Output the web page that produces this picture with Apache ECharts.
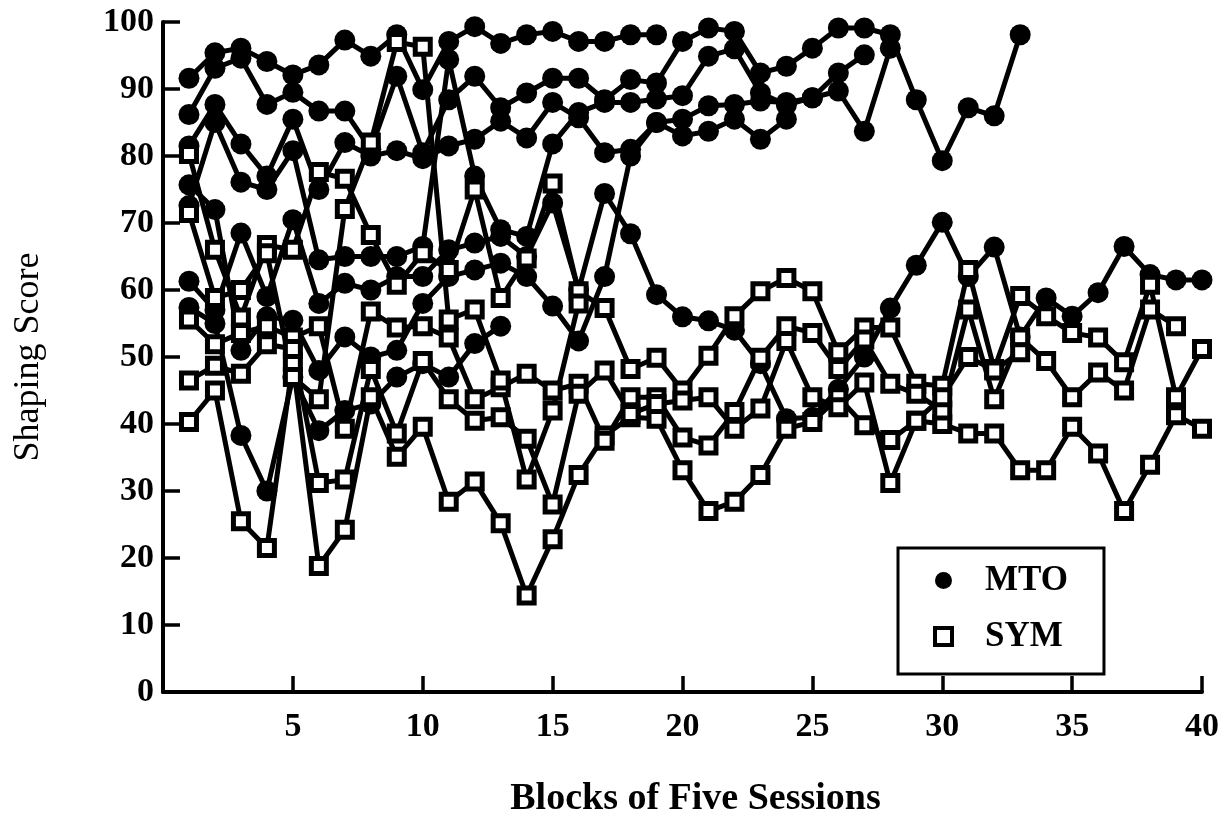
<!DOCTYPE html>
<html>
<head>
<meta charset="utf-8">
<script src="https://cdn.jsdelivr.net/npm/echarts@6/dist/echarts.min.js"></script>
<style>
  html, body { margin: 0; padding: 0; background: #fff; }
  #chart { width: 1232px; height: 823px; }
</style>
</head>
<body>
<div id="chart"></div>
<script>
// Shaping scores per block of five sessions (block 1 = first value)
// MTO subjects
var mtoA = [91.6, 95.4, 96.1, 94.1, 92.1, 93.6, 97.3, 94.9, 98.1, 89.9, 97.1, 99.3, 96.8, 98.1, 98.6, 97.1, 97.1, 98.1, 98.1];
var mtoB = [86.2, 93.1, 94.6, 87.7, 89.5, 86.7, 86.7, 81.0, 91.9, 80.5, 88.4, 91.9, 87.2, 89.4, 91.6, 91.6, 88.4, 91.4, 90.9, 97.1, 99.1, 98.6, 92.4, 93.4, 96.1, 99.1, 99.1, 98.1, 88.4, 79.3, 87.2, 86.0, 98.1];
var mtoC = [81.5, 87.7, 81.8, 77.0, 85.5, 75.0, 82.0, 80.0, 80.8, 79.6, 81.5, 82.5, 85.2, 82.7, 88.0, 85.7, 80.5, 81.0, 85.0, 85.5, 87.5, 87.7, 88.2, 88.0, 88.7, 89.7, 83.7, 96.1];
var mtoD = [75.7, 72.0, 51.0, 56.0, 55.5, 48.0, 53.0, 50.0, 51.0, 58.0, 62.0, 63.0, 64.0, 62.0, 57.6, 52.4, 62.0, 80.0, 85.0, 83.0, 83.7, 85.5, 82.5, 85.5];
var mtoE = [72.6, 85.0, 76.1, 75.0, 80.8, 64.5, 65.0, 65.0, 65.0, 66.5, 94.4, 77.0, 69.0, 68.0, 81.8, 86.5, 88.0, 88.0, 88.5, 89.0, 94.9, 96.0, 89.4, 87.6, 88.7, 92.4, 95.1];
var mtoF = [57.4, 55.0, 38.3, 30.0, 47.0, 39.0, 42.0, 43.0, 47.0, 49.0, 47.0, 52.0, 54.6];
var mtoG = [61.3, 57.0, 68.5, 59.0, 70.5, 58.0, 61.0, 60.0, 62.0, 62.0, 66.0, 67.0, 68.0, 65.0, 73.0, 60.0, 74.4, 68.4, 59.3, 56.0, 55.4, 54.0, 49.0, 40.8, 41.0, 45.2, 50.0, 57.3, 63.7, 70.1, 62.0, 66.4, 53.0, 58.8, 56.1, 59.6, 66.5, 62.3, 61.5, 61.5];

// SYM subjects
var symA = [40.3, 45.0, 25.5, 21.5, 49.2, 18.8, 24.2, 44.0, 35.1, 39.6, 28.4, 31.4, 25.2, 14.4, 22.8, 32.4, 38.3, 41.0, 40.8, 33.1, 27.0, 28.4, 32.4, 39.3, 40.3, 44.0, 39.8, 37.6, 40.5, 40.0, 38.6, 38.6, 33.1, 33.1, 39.6, 35.6, 27.0, 33.9, 41.3, 39.3];
var symB = [80.3, 66.0, 55.9, 66.7, 66.0, 77.6, 76.6, 68.2, 60.8, 65.5, 63.0, 75.0, 58.8, 64.7, 75.9, 59.8, 57.3, 48.2, 49.9, 45.0, 50.2, 56.1, 59.8, 61.8, 59.8, 50.7, 54.4, 54.4, 46.0, 45.7, 63.0, 48.2, 59.1, 56.1, 53.6, 52.9, 49.2, 60.8, 44.0, 51.2];
var symC = [55.6, 51.9, 53.6, 54.6, 52.9, 54.6, 39.3, 56.8, 54.4, 54.6, 52.9, 43.7, 45.5, 47.5, 45.0, 46.0, 37.5, 44.0, 44.0, 38.0, 36.8, 41.8, 49.9, 54.6, 53.6, 48.2, 52.6, 46.0, 44.5, 42.0, 57.1, 43.7, 52.9, 49.4, 44.0, 47.7, 45.0, 57.1, 54.6];
var symD = [46.5, 48.7, 47.5, 51.9, 51.2, 31.2, 31.7, 48.2, 38.6, 49.4, 43.7, 40.5, 41.0, 37.8, 28.0, 44.5, 48.0, 41.5, 43.0, 43.5, 44.0, 39.3, 42.3, 52.4, 44.0, 42.5, 46.2, 31.2, 40.5, 44.0, 50.0, 48.0, 50.7];
var symE = [71.5, 58.8, 60.0, 65.5, 47.0, 43.7, 72.1, 82.0, 97.0, 96.3, 55.6, 57.1, 46.5, 31.7, 42.0, 58.0];

var mtoSubjects = [mtoA, mtoB, mtoC, mtoD, mtoE, mtoF, mtoG];
var symSubjects = [symA, symB, symC, symD, symE];

// Axis tick values
var xTicks = [5, 10, 15, 20, 25, 30, 35, 40];
var yTicks = [0, 10, 20, 30, 40, 50, 60, 70, 80, 90, 100];

var FONT = 'Liberation Serif';
var INK = '#000';

function toPoints(values) {
  return values.map(function (v, i) { return [i + 1, v]; });
}

var series = [];
mtoSubjects.forEach(function (vals) {
  series.push({
    name: 'MTO',
    type: 'line',
    data: toPoints(vals),
    symbol: 'circle',
    symbolSize: 21,
    clip: false,
    lineStyle: { color: INK, width: 5 },
    itemStyle: { color: INK, borderColor: INK, borderWidth: 0 },
    emphasis: { disabled: true },
    z: 2
  });
});
symSubjects.forEach(function (vals) {
  series.push({
    name: 'SYM',
    type: 'line',
    data: toPoints(vals),
    symbol: 'rect',
    symbolSize: 15,
    clip: false,
    lineStyle: { color: INK, width: 5 },
    itemStyle: { color: '#fff', borderColor: INK, borderWidth: 5 },
    emphasis: { disabled: true },
    z: 3
  });
});

var chart = echarts.init(document.getElementById('chart'), null, { renderer: 'canvas' });
chart.setOption({
  animation: false,
  backgroundColor: '#fff',
  grid: { left: 163, right: 30, top: 22, bottom: 126, containLabel: false },
  xAxis: {
    type: 'value',
    min: 0,
    max: 40,
    interval: 5,
    name: 'Blocks of Five Sessions',
    nameLocation: 'middle',
    nameGap: 88,
    nameTextStyle: { fontFamily: FONT, fontSize: 38, fontWeight: 'bold', color: INK, padding: [0, 0, 0, 26] },
    axisLine: { show: true, lineStyle: { color: INK, width: 4 } },
    axisTick: { show: true, inside: true, length: 16, lineStyle: { color: INK, width: 3.5 } },
    axisLabel: {
      margin: 18,
      fontFamily: FONT, fontSize: 34, fontWeight: 'bold', color: INK,
      formatter: function (v) { return xTicks.indexOf(v) >= 0 ? String(v) : ''; }
    },
    splitLine: { show: false }
  },
  yAxis: {
    type: 'value',
    min: 0,
    max: 100,
    interval: 10,
    name: 'Shaping Score',
    nameLocation: 'middle',
    nameGap: 116,
    nameRotate: 90,
    nameTextStyle: { fontFamily: FONT, fontSize: 36, color: INK },
    axisLine: { show: true, lineStyle: { color: INK, width: 4 } },
    axisTick: { show: true, inside: true, length: 17, lineStyle: { color: INK, width: 3.5 } },
    axisLabel: {
      margin: 9,
      fontFamily: FONT, fontSize: 34, fontWeight: 'bold', color: INK,
      formatter: function (v) { return yTicks.indexOf(v) >= 0 ? String(v) : ''; }
    },
    splitLine: { show: false }
  },
  legend: {
    orient: 'vertical',
    left: 898,
    top: 548,
    selectedMode: false,
    backgroundColor: '#fff',
    borderColor: INK,
    borderWidth: 3,
    borderRadius: 0,
    padding: [15, 36, 20, 35],
    itemGap: 21,
    itemWidth: 17,
    itemHeight: 17,
    textStyle: { fontFamily: FONT, fontSize: 35, fontWeight: 'bold', color: INK, padding: [0, 0, 0, 28] },
    data: [
      { name: 'MTO', icon: 'circle', itemStyle: { color: INK, borderWidth: 0 } },
      { name: 'SYM', icon: 'rect', itemStyle: { color: '#fff', borderColor: INK, borderWidth: 4 } }
    ]
  },
  series: series
});
</script>
</body>
</html>
